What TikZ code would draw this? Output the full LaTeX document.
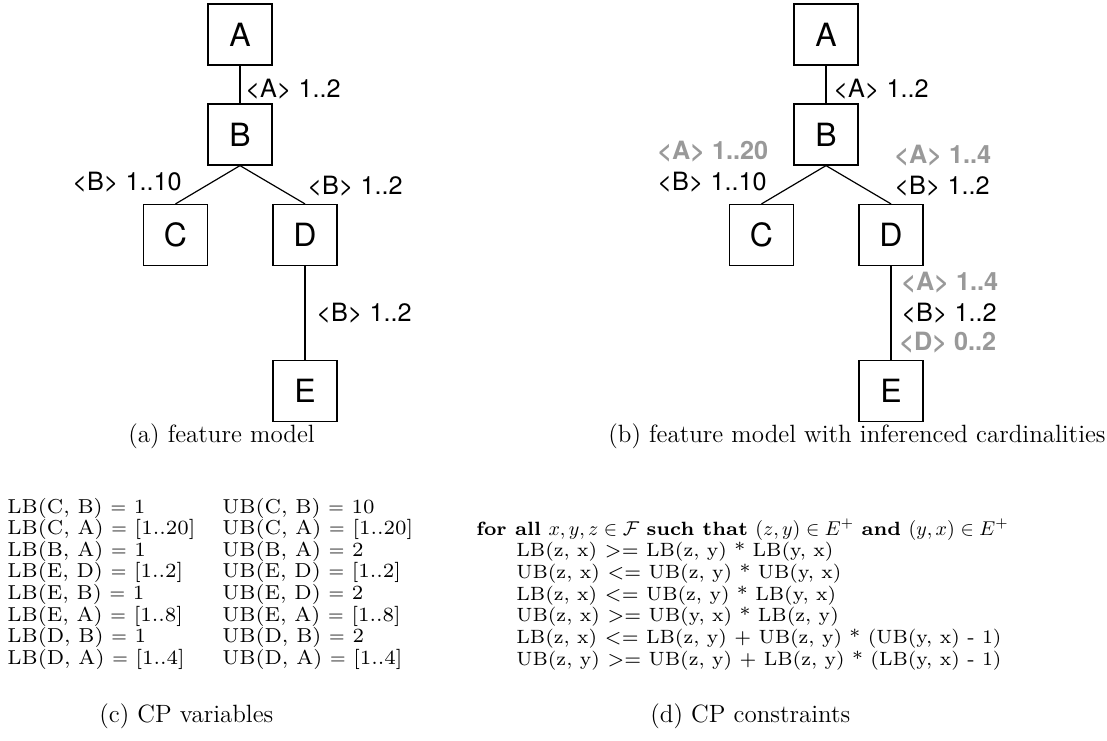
\documentclass[tikz,border=0pt]{standalone}
\usepackage{fontspec}
\newfontfamily\helv{TeX Gyre Heros}
\newfontfamily\cpfont{lmroman7-regular.otf}[BoldFont=lmroman7-bold.otf]
\definecolor{infgray}{RGB}{153,153,153}
\begin{document}
\begin{tikzpicture}[x=0.5pt,y=-0.5pt,
  feat/.style={draw,line width=0.6pt,minimum width=32pt,minimum height=30.5pt,
    inner sep=0pt,font=\helv\fontsize{16}{18}\selectfont},
  card/.style={anchor=west,inner sep=0pt,font=\helv\fontsize{12.6}{14}\selectfont},
  infer/.style={anchor=west,inner sep=0pt,text=infgray,
    font=\helv\bfseries\fontsize{12.6}{14}\selectfont},
  edge/.style={line width=0.6pt},
  capt/.style={anchor=west,inner sep=0pt,font=\fontsize{12.5}{14}\selectfont},
  cpvar/.style={anchor=base west,inner sep=0pt,font=\cpfont\fontsize{10.1}{12}\selectfont},
  cpcon/.style={anchor=base west,inner sep=0pt,font=\cpfont\fontsize{9.6}{12}\selectfont},
]
\useasboundingbox (0,0) rectangle (1107,740);

% ---- (a) feature model ----
\node[feat] (lA) at (240,34.5) {A};
\node[feat] (lB) at (240,134.5) {B};
\node[feat] (lC) at (175.5,235) {C};
\node[feat] (lD) at (305,235) {D};
\node[feat] (lE) at (305,391) {E};
\draw[edge] (lA.south) -- (lB.north);
\draw[edge] (lB.south) -- (lC.north);
\draw[edge] (lB.south) -- (lD.north);
\draw[edge] (lD.south) -- (lE.north);
\node[card] (lAB) at (245,89) {<A> 1..2};
\node[card] (lBC) at (72,182) {<B> 1..10};
\node[card] (lBD) at (307,186) {<B> 1..2};
\node[card] (lDE) at (316,313) {<B> 1..2};
\node[capt] (capa) at (128,436) {(a) feature model};

% ---- (b) feature model with inferred cardinalities ----
\node[feat] (rA) at (826,34.5) {A};
\node[feat] (rB) at (826,134.5) {B};
\node[feat] (rC) at (761.5,235) {C};
\node[feat] (rD) at (891,235) {D};
\node[feat] (rE) at (891,391) {E};
\draw[edge] (rA.south) -- (rB.north);
\draw[edge] (rB.south) -- (rC.north);
\draw[edge] (rB.south) -- (rD.north);
\draw[edge] (rD.south) -- (rE.north);
\node[card] (rAB) at (833,89) {<A> 1..2};
\node[infer] (rCA) at (657,152) {<A> 1..20};
\node[card] (rBC) at (657,182) {<B> 1..10};
\node[infer] (rDA) at (894,156) {<A> 1..4};
\node[card] (rBD) at (894,186) {<B> 1..2};
\node[infer] (rEA) at (901,283) {<A> 1..4};
\node[card] (rEB) at (901,313) {<B> 1..2};
\node[infer] (rED) at (899,343) {<D> 0..2};
\node[capt] (capb) at (608,436) {(b) feature model with inferenced cardinalities};

% ---- (c) CP variables ----
\foreach \lb/\ub [count=\i from 0] in {
  {LB(C, B) $=$ 1}/{UB(C, B) $=$ 10},
  {LB(C, A) $=$ [1..20]}/{UB(C, A) $=$ [1..20]},
  {LB(B, A) $=$ 1}/{UB(B, A) $=$ 2},
  {LB(E, D) $=$ [1..2]}/{UB(E, D) $=$ [1..2]},
  {LB(E, B) $=$ 1}/{UB(E, D) $=$ 2},
  {LB(E, A) $=$ [1..8]}/{UB(E, A) $=$ [1..8]},
  {LB(D, B) $=$ 1}/{UB(D, B) $=$ 2},
  {LB(D, A) $=$ [1..4]}/{UB(D, A) $=$ [1..4]}} {
  \node[cpvar] (lb\i) at (7,{513+21.6*\i}) {\lb};
  \node[cpvar] (ub\i) at (222,{513+21.6*\i}) {\ub};
}
\node[capt] (capc) at (99,716) {(c) CP variables};

% ---- (d) CP constraints ----
\node[cpcon] (forall) at (476,535)
  {\textbf{for all} $x,y,z\in\mathcal{F}$ \textbf{such that} $(z,y)\in E^{+}$ \textbf{and} $(y,x)\in E^{+}$};
\foreach \c [count=\i from 1] in {
  {LB(z, x) >= LB(z, y) * LB(y, x)},
  {UB(z, x) <= UB(z, y) * UB(y, x)},
  {LB(z, x) <= UB(z, y) * LB(y, x)},
  {UB(z, x) >= UB(y, x) * LB(z, y)},
  {LB(z, x) <= LB(z, y) + UB(z, y) * (UB(y, x) - 1)},
  {UB(z, y) >= UB(z, y) + LB(z, y) * (LB(y, x) - 1)}} {
  \node[cpcon] (con\i) at (516,{535+21.7*\i}) {\c};
}
\node[capt] (capd) at (650,716) {(d) CP constraints};
\end{tikzpicture}
\end{document}
